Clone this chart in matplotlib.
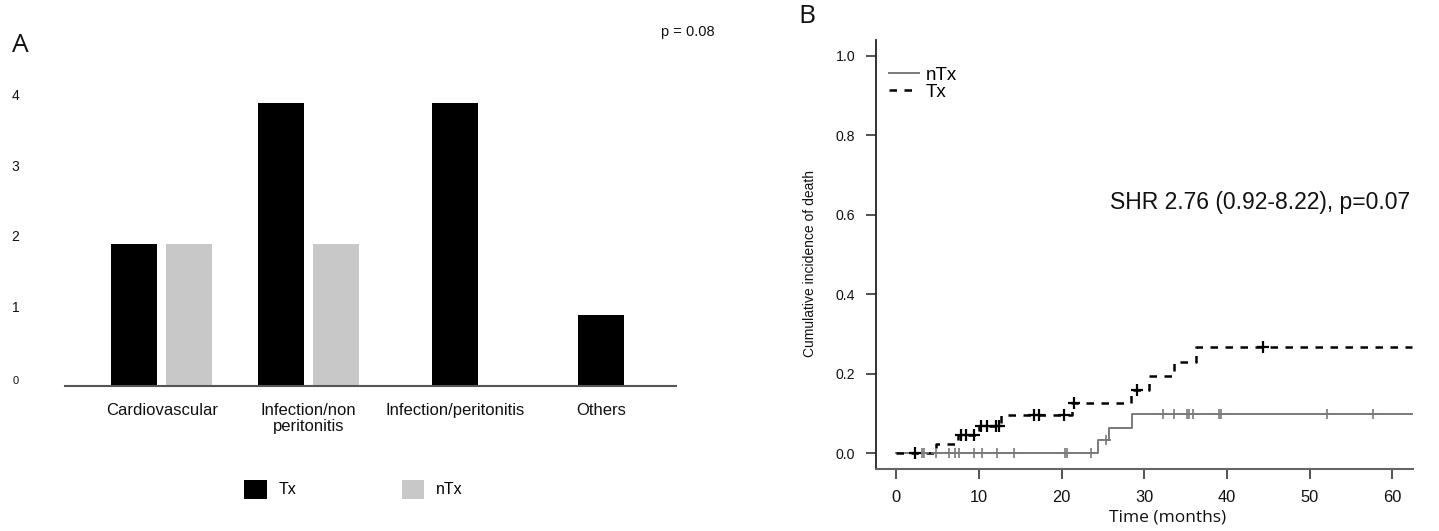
import numpy as np
import matplotlib.pyplot as plt
from matplotlib.patches import Patch

# --- panel A data: causes of death ---
categories = ["Cardiovascular", "Infection/non\nperitonitis", "Infection/peritonitis", "Others"]
tx_counts = [2, 4, 4, 1]
ntx_counts = [2, 2, 0, 0]
a_yticks = [0, 1, 2, 3, 4]

# --- panel B data: cumulative incidence (step points) ---
tx_time = [0, 4.8, 7.5, 10.0, 12.6, 21.2, 28.4, 30.6, 33.6, 36.3, 62.4]
tx_cif = [0, 0.023, 0.045, 0.068, 0.095, 0.126, 0.159, 0.195, 0.230, 0.267, 0.267]
tx_cens_t = [2.2, 7.8, 8.4, 9.4, 10.3, 11.0, 12.1, 12.4, 16.7, 17.3, 20.3, 21.5, 29.1, 44.4]

ntx_time = [0, 24.4, 25.7, 28.5, 62.4]
ntx_cif = [0, 0.032, 0.064, 0.098, 0.098]
ntx_cens_t = [3.1, 3.4, 4.8, 6.4, 7.1, 7.6, 9.4, 10.4, 12.2, 14.2, 20.4, 20.6, 23.5,
              25.4, 32.2, 33.6, 35.2, 35.4, 35.9, 39.0, 39.3, 52.1, 57.6]
b_xticks = [0, 10, 20, 30, 40, 50, 60]
b_yticks = [0.0, 0.2, 0.4, 0.6, 0.8, 1.0]

ARIAL = ["Liberation Sans", "DejaVu Sans"]
OPEN = ["Open Sans", "DejaVu Sans"]

fig = plt.figure(figsize=(14.39, 5.31), dpi=100)

# ================= panel A =================
axA = fig.add_axes([0.0452, 0.2731, 0.4246, 0.6134])
pos = np.arange(len(categories))
bw = 0.314
off = 0.188
for i in pos:
    if ntx_counts[i] > 0:
        axA.bar(i - off, tx_counts[i], bw, color="black")
        axA.bar(i + off, ntx_counts[i], bw, color="#c8c8c8")
    else:
        axA.bar(i, tx_counts[i], bw, color="black")

axA.set_xlim(-0.66, 3.511)
axA.set_ylim(0, 4.6)
for s in ["top", "right", "left"]:
    axA.spines[s].set_visible(False)
axA.spines["bottom"].set_color("#555555")
axA.spines["bottom"].set_linewidth(1.5)
axA.set_xticks(pos)
axA.set_xticklabels(categories, family=ARIAL, fontsize=12, color="#111111", linespacing=1.1)
axA.tick_params(axis="x", length=0, pad=12)
axA.set_yticks(a_yticks)
axA.set_yticklabels([str(v) for v in a_yticks], family=ARIAL, fontsize=10, color="#111111")
axA.tick_params(axis="y", length=0, pad=33)
for lab in axA.get_yticklabels():
    lab.set_verticalalignment("bottom")
axA.get_yticklabels()[0].set_fontsize(8)

fig.text(0.0083, 0.915, "A", family=OPEN, fontsize=19, color="#111111", va="center")
fig.text(0.4594, 0.94, "p = 0.08", family=ARIAL, fontsize=10.5, color="#111111", va="center")

handlesA = [Patch(facecolor="black"), Patch(facecolor="#c8c8c8")]
fig.legend(handlesA, ["Tx", "nTx"], loc="center", bbox_to_anchor=(0.2456, 0.079), ncol=2,
           frameon=False, handlelength=1.4, handleheight=1.45, handletextpad=0.75,
           columnspacing=6.6, prop={"family": ARIAL, "size": 11.5})

# ================= panel B =================
axB = fig.add_axes([0.6088, 0.1168, 0.3732, 0.8079])
axB.step(ntx_time, ntx_cif, where="post", color="#7a7a7a", lw=1.4, label="nTx")
axB.step(tx_time, tx_cif, where="post", color="black", lw=1.8,
         linestyle=(0, (3.0, 3.0)), label="Tx")

ntx_cens_y = [ntx_cif[np.searchsorted(ntx_time, t, side="right") - 1] for t in ntx_cens_t]
tx_cens_y = [tx_cif[np.searchsorted(tx_time, t, side="right") - 1] for t in tx_cens_t]
axB.plot(ntx_cens_t, ntx_cens_y, "+", color="#7a7a7a", ms=7, mew=1.2)
axB.plot(tx_cens_t, tx_cens_y, "+", color="black", ms=8, mew=1.6)

axB.set_xlim(-2.45, 62.5)
axB.set_ylim(-0.04, 1.04)
axB.spines["top"].set_visible(False)
axB.spines["right"].set_visible(False)
axB.spines["left"].set_color("#222222")
axB.spines["bottom"].set_color("#666666")
axB.spines["left"].set_linewidth(1.3)
axB.spines["bottom"].set_linewidth(1.5)
axB.set_xticks(b_xticks)
axB.set_xticklabels([str(v) for v in b_xticks], family=ARIAL, fontsize=11.8, color="#111111")
axB.set_yticks(b_yticks)
axB.set_yticklabels([f"{v:.1f}" for v in b_yticks], family=ARIAL, fontsize=10.2, color="#111111")
axB.tick_params(axis="x", length=7, width=1.2, color="#333333", pad=8)
axB.tick_params(axis="y", length=7, width=1.2, color="#333333", pad=8)

axB.set_xlabel("Time (months)", family=OPEN, fontsize=12.5, color="#111111")
axB.xaxis.set_label_coords(0.542, -0.095)
axB.set_ylabel("Cumulative incidence of death", family=ARIAL, fontsize=10, color="#111111")
axB.yaxis.set_label_coords(-0.11, 0.48)

axB.text(25.9, 0.63, "SHR 2.76 (0.92-8.22), p=0.07", family=ARIAL, fontsize=16.5,
         color="#111111", va="center", ha="left")

axB.legend(loc="upper left", bbox_to_anchor=(0.0, 0.968), frameon=False,
           handlelength=1.6, handletextpad=0.35, labelspacing=-0.02, borderaxespad=0.3,
           prop={"family": ARIAL, "size": 13.5})

fig.text(0.5545, 0.968, "B", family=OPEN, fontsize=19, color="#111111", va="center")

fig.savefig("out.png", dpi=100)
